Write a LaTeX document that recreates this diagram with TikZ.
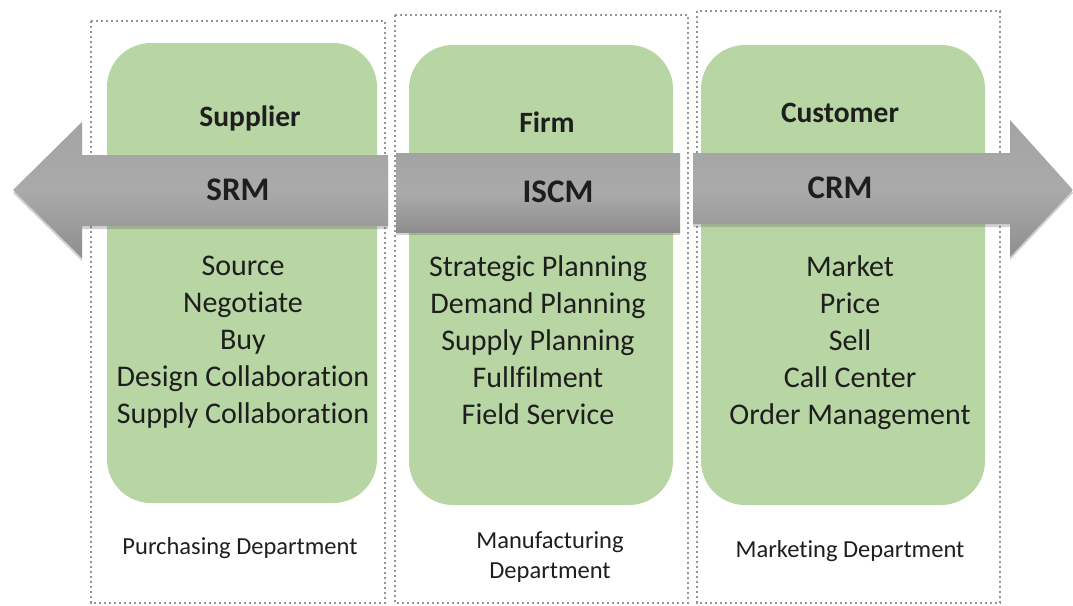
\documentclass[tikz,border=0pt]{standalone}
\usepackage{fontspec}
\setmainfont[Ligatures=NoCommon]{Carlito}
\usetikzlibrary{shadows}
\definecolor{boxgreen}{HTML}{B8D6A3}
\definecolor{frame}{HTML}{949494}
\definecolor{ink}{HTML}{1E1E1E}
\definecolor{bandtop}{HTML}{A3A3A3}
\definecolor{bandmid}{HTML}{AAAAAA}
\definecolor{bandbot}{HTML}{8E8E8E}
\tikzset{
  deptframe/.style={draw=frame, line width=2.2pt, dash pattern=on 2.2pt off 2.8pt},
  panel/.style={fill=boxgreen, rounded corners=44pt},
  band/.style={top color=bandtop, bottom color=bandbot, middle color=bandmid,
    drop shadow={shadow xshift=0pt, shadow yshift=-3pt, opacity=0.3, fill=black!60}},
  heading/.style={font=\bfseries\fontsize{29.5}{34}\selectfont, text=ink},
  acronym/.style={font=\bfseries\fontsize{33}{38}\selectfont, text=ink},
  item/.style={font=\fontsize{30}{37}\selectfont, text=ink, align=center},
  dept/.style={font=\fontsize{24.5}{30}\selectfont, text=ink, align=center},
}
\begin{document}
\begin{tikzpicture}[x=1pt, y=-1pt]
  \useasboundingbox (0,0) rectangle (1073,605);
  % department frames
  \draw[deptframe] (91,21) rectangle (385,603);
  \draw[deptframe] (395,15) rectangle (688,603);
  \draw[deptframe] (697,11) rectangle (1000,603);
  % green panels
  \path[panel] (107,43) rectangle (377,503);
  \path[panel] (409,45) rectangle (673,505);
  \path[panel] (701,45) rectangle (985,505);
  % bands: left arrow, middle bar, right arrow
  \path[band] (388,155) -- (82,155) -- (82,122) -- (13,190) -- (82,258)
    -- (82,226) -- (388,226) -- cycle;
  \path[band] (396,153) rectangle (680,232);
  \path[band] (693,153) -- (1010,153) -- (1010,120) -- (1073,190)
    -- (1010,257) -- (1010,224) -- (693,224) -- cycle;
  % headings
  \node[heading] (sup) at (250,118) {Supplier};
  \node[heading] (firm) at (547,122) {Firm};
  \node[heading] (cust) at (840,113) {Customer};
  \node[acronym] (srm) at (238,190) {SRM};
  \node[acronym] (iscm) at (558,192) {ISCM};
  \node[acronym] (crm) at (840,188) {CRM};
  % activities
  \node[item, anchor=north] (l1) at (243,252) {Source\\Negotiate\\Buy\\Design Collaboration\\Supply Collaboration};
  \node[item, anchor=north] (l2) at (538,252) {Strategic Planning\\Demand Planning\\Supply Planning\\Fullfilment\\Field Service};
  \node[item, anchor=north] (l3) at (850,252) {Market\\Price\\Sell\\Call Center\\Order Management};
  % departments
  \node[dept] (d1) at (240,548) {Purchasing Department};
  \node[dept] (d2) at (550,557) {Manufacturing\\Department};
  \node[dept] (d3) at (850,551) {Marketing Department};
\end{tikzpicture}
\end{document}
